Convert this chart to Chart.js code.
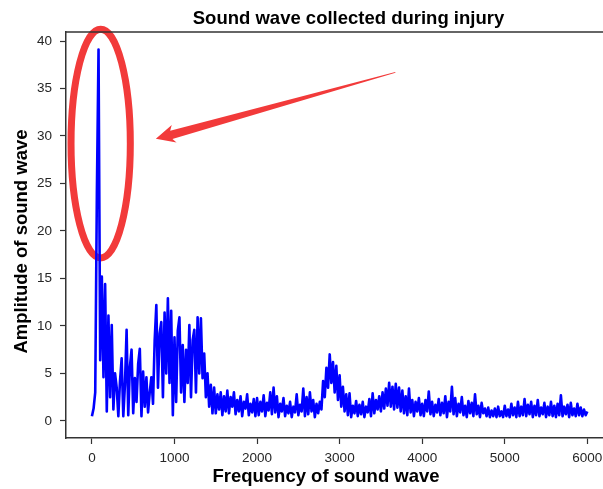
<!DOCTYPE html>
<html>
<head>
<meta charset="utf-8">
<script src="https://cdn.jsdelivr.net/npm/chart.js@4"></script>
<style>
  html, body { margin: 0; padding: 0; background: #fff; }
  #wrap { width: 603px; height: 489px; }
</style>
</head>
<body>
<div id="wrap"><canvas id="graph"></canvas></div>
<script>
// frequency bins (Hz), spaced evenly
var FREQ_STEP = 20;
// amplitude for each bin, 0 .. 6000 Hz
var amplitude = [
  0.5, 1.3, 3.0, 24.0, 39.1, 6.4, 15.2, 4.6, 14.4, 1.0,
  11.1, 2.5, 10.1, 1.2, 5.0, 3.5, 0.5, 4.2, 6.6, 0.5,
  3.8, 9.6, 0.6, 5.7, 7.5, 0.8, 4.5, 2.0, 6.0, 7.6,
  0.5, 5.2, 1.5, 4.6, 0.9, 3.0, 4.6, 1.8, 8.5, 12.2,
  3.5, 9.2, 10.4, 2.5, 11.4, 5.0, 12.9, 4.0, 11.6, 0.6,
  8.8, 2.0, 9.5, 10.9, 3.0, 8.0, 2.0, 7.5, 4.0, 10.1,
  2.5, 8.5, 9.6, 3.0, 10.9, 5.0, 10.8, 4.5, 7.1, 2.5,
  5.0, 1.5, 3.8, 0.8, 3.5, 0.8, 2.8, 1.2, 3.0, 0.6,
  2.6, 1.0, 3.2, 0.8, 2.5, 1.5, 3.0, 0.7, 2.2, 1.0,
  2.6, 0.5, 2.0, 1.3, 2.8, 0.6, 1.8, 0.9, 2.3, 0.5,
  2.4, 0.6, 2.0, 1.0, 2.7, 0.5, 1.9, 1.1, 3.0, 0.7,
  3.5, 0.9, 2.6, 0.4, 1.8, 1.0, 2.4, 0.5, 1.6, 0.8,
  2.0, 0.4, 1.5, 0.9, 2.8, 0.6, 1.7, 1.0, 3.4, 0.5,
  2.5, 0.7, 3.0, 1.0, 2.2, 0.4, 1.8, 0.8, 2.0, 1.2,
  4.2, 2.5, 5.6, 3.5, 7.0, 4.0, 6.2, 3.0, 5.8, 2.2,
  4.8, 1.5, 3.6, 1.0, 2.8, 0.6, 2.9, 0.4, 1.6, 0.8,
  2.1, 0.5, 1.7, 0.7, 2.0, 0.4, 1.5, 0.9, 2.3, 0.5,
  2.9, 0.8, 2.2, 1.2, 2.6, 1.0, 3.0, 1.3, 3.4, 1.6,
  4.0, 1.5, 3.6, 1.2, 3.9, 1.4, 3.5, 1.0, 3.2, 0.8,
  2.6, 0.6, 3.4, 0.9, 2.2, 0.5, 2.0, 1.0, 2.4, 0.6,
  1.8, 0.5, 2.2, 1.0, 3.1, 0.7, 2.0, 0.5, 1.7, 0.9,
  2.3, 0.6, 1.9, 0.8, 2.6, 0.4, 2.0, 1.0, 3.6, 0.7,
  2.4, 0.5, 1.8, 0.9, 2.5, 0.6, 1.6, 0.4, 2.1, 0.8,
  1.9, 0.5, 2.8, 0.7, 1.6, 0.4, 1.9, 0.8, 1.3, 0.5,
  1.4, 0.4, 1.1, 0.5, 1.3, 0.4, 1.5, 0.5, 1.0, 0.4,
  1.6, 0.5, 1.2, 0.4, 1.8, 0.6, 1.4, 0.4, 2.0, 0.5,
  1.5, 0.6, 2.3, 0.5, 1.7, 0.7, 2.0, 0.4, 1.6, 0.6,
  2.2, 0.5, 1.4, 0.7, 1.9, 0.4, 1.5, 0.6, 2.0, 0.5,
  1.6, 0.4, 1.8, 0.6, 2.7, 0.5, 1.5, 0.7, 1.7, 0.4,
  1.9, 0.6, 1.3, 0.5, 1.8, 0.6, 1.4, 0.5, 1.2, 0.6,
  1.0
];
var xTicks = [0, 1000, 2000, 3000, 4000, 5000, 6000];
var yTicks = [0, 5, 10, 15, 20, 25, 30, 35, 40];
var xRange = [-314, 6190];
var yRange = [-1.8, 40.95];

var titleText = "Sound wave collected during injury";
var xLabel = "Frequency of sound wave";
var yLabel = "Amplitude of sound wave";

// circle round the peak and the arrow pointing at it (data coords)
var ringCenter = [106, 29.2];
var ringRadius = [359, 12.04];
var arrowTip = [774, 29.7];
var arrowTail = [3675, 36.7];

var points = [];
for (var i = 0; i < amplitude.length; i++) {
  points.push({ x: i * FREQ_STEP, y: amplitude[i] });
}

var AXIS_COLOR = "#333333";
var TEXT_COLOR = "#262626";
var RED = "#f23a3a";
var tickFont = { family: "'Liberation Sans Narrow', 'Liberation Sans', Arial, sans-serif", size: 13.5 };
var boldFont = "bold 18.5px 'Liberation Sans', Arial, sans-serif";

var marks = {
  id: "marks",
  beforeDatasetsDraw: function (chart) {
    var ctx = chart.ctx;
    var sx = chart.scales.x;
    var sy = chart.scales.y;
    ctx.save();
    // red ring
    var cx = sx.getPixelForValue(ringCenter[0]);
    var cy = sy.getPixelForValue(ringCenter[1]);
    var rx = sx.getPixelForValue(ringCenter[0] + ringRadius[0]) - cx;
    var ry = cy - sy.getPixelForValue(ringCenter[1] + ringRadius[1]);
    ctx.strokeStyle = RED;
    ctx.lineWidth = 7;
    ctx.beginPath();
    ctx.ellipse(cx, cy, rx, ry, 0, 0, Math.PI * 2);
    ctx.stroke();
    // tapered arrow
    var tx = sx.getPixelForValue(arrowTip[0]);
    var ty = sy.getPixelForValue(arrowTip[1]);
    var ex = sx.getPixelForValue(arrowTail[0]);
    var ey = sy.getPixelForValue(arrowTail[1]);
    var len = Math.hypot(ex - tx, ey - ty);
    var ux = (ex - tx) / len, uy = (ey - ty) / len;
    var nx = -uy, ny = ux;
    function pt(a, b) {
      return [tx + ux * a + nx * b, ty + uy * a + ny * b];
    }
    var shape = [pt(0, 0), pt(19, -9), pt(16, -4), pt(len, -0.4), pt(len, 0.4), pt(16, 4.5), pt(19, 9)];
    ctx.fillStyle = RED;
    ctx.beginPath();
    ctx.moveTo(shape[0][0], shape[0][1]);
    for (var k = 1; k < shape.length; k++) ctx.lineTo(shape[k][0], shape[k][1]);
    ctx.closePath();
    ctx.fill();
    ctx.restore();
  },
  afterDraw: function (chart) {
    var ctx = chart.ctx;
    var a = chart.chartArea;
    ctx.save();
    // top spine
    ctx.strokeStyle = AXIS_COLOR;
    ctx.lineWidth = 1.5;
    ctx.beginPath();
    ctx.moveTo(a.left, a.top);
    ctx.lineTo(a.right, a.top);
    ctx.stroke();
    // texts
    ctx.fillStyle = "#000";
    ctx.font = boldFont;
    ctx.textAlign = "center";
    ctx.textBaseline = "alphabetic";
    ctx.fillText(titleText, 348.5, 23.5);
    ctx.fillText(xLabel, 326, 481.5);
    ctx.translate(26.5, 241.5);
    ctx.rotate(-Math.PI / 2);
    ctx.fillText(yLabel, 0, 0);
    ctx.restore();
  }
};

var ctx = document.getElementById("graph").getContext("2d");
var chart = new Chart(ctx, {
  type: "line",
  data: {
    datasets: [
      {
        data: points,
        borderColor: "#0000ff",
        borderWidth: 2.6,
        pointRadius: 0,
        tension: 0,
        fill: false,
        borderJoinStyle: "round",
      },
    ],
  },
  options: {
    responsive: true,
    maintainAspectRatio: false,
    animation: false,
    layout: { padding: { top: 32, right: 0, left: 0, bottom: 0 } },
    plugins: {
      legend: { display: false },
      tooltip: { enabled: false },
    },
    scales: {
      x: {
        type: "linear",
        min: xRange[0],
        max: xRange[1],
        afterBuildTicks: function (s) {
          s.ticks = xTicks.map(function (v) { return { value: v }; });
        },
        afterFit: function (s) {
          s.height = 51;
          s.paddingLeft = 0;
          s.paddingRight = 0;
        },
        grid: { drawOnChartArea: false, drawTicks: true, tickLength: 6, tickColor: AXIS_COLOR, tickWidth: 1.2 },
        border: { color: AXIS_COLOR, width: 1.5 },
        ticks: {
          color: TEXT_COLOR, font: tickFont, padding: 6, maxRotation: 0, autoSkip: false,
          callback: function (v) { return String(v); },
        },
      },
      y: {
        type: "linear",
        min: yRange[0],
        max: yRange[1],
        afterBuildTicks: function (s) {
          s.ticks = yTicks.map(function (v) { return { value: v }; });
        },
        afterFit: function (s) {
          s.width = 66;
          s.paddingTop = 0;
          s.paddingBottom = 0;
        },
        grid: { drawOnChartArea: false, drawTicks: true, tickLength: 6, tickColor: AXIS_COLOR, tickWidth: 1.2 },
        border: { color: AXIS_COLOR, width: 1.5 },
        ticks: {
          color: TEXT_COLOR, font: tickFont, padding: 8,
          callback: function (v) { return String(v); },
        },
      },
    },
  },
  plugins: [marks],
});
</script>
</body>
</html>
